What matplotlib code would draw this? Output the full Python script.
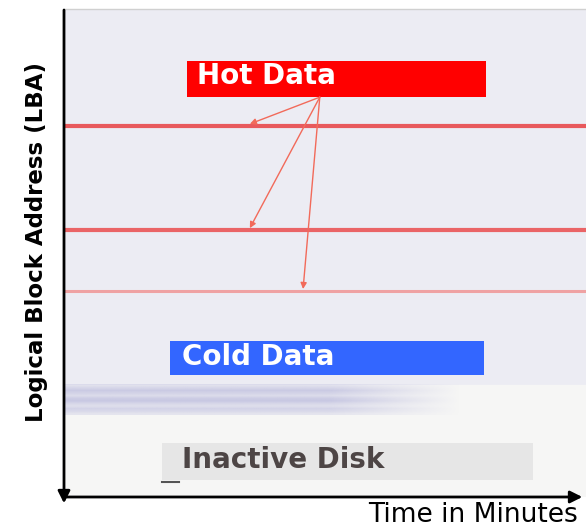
import matplotlib.pyplot as plt
from matplotlib.patches import Rectangle
import numpy as np

plt.rcParams['font.family'] = ['DejaVu Sans']

# ── Data (x: time 0-100, y: LBA 0-100, increasing downward) ────────────────
HOT_LBA = [23.8, 45.2, 57.7]
HOT_COLORS = ["#e8494b", "#ea5557", "#f09a9a"]
HOT_WIDTHS = [3.0, 3.0, 2.2]
ARROW_FROM = (49.0, 17.9)
ARROW_TO_X = [35.6, 35.6, 45.8]

LABELS = ["Hot Data", "Cold Data", "Inactive Disk"]
BOX_X = [(23.6, 80.8), (20.3, 80.5), (18.8, 89.8)]
BOX_Y = [(10.5, 17.9), (68.0, 74.9), (88.9, 96.5)]
BOX_FACE = ["#ff0000", "#3366ff", "#e6e6e6"]
TEXT_COLOR = ["white", "white", "#4d4545"]
TEXT_X = [25.5, 22.6, 22.6]
TEXT_Y = [13.6, 71.2, 92.3]

ACTIVE_END = 77.0      # end of accessed region
STREAK_END = 83.2      # end of sparse cold streak band
STREAK_ROWS = [0.35, 0.55, 0.75, 0.6, 0.45, 0.7, 0.8, 0.55, 0.4, 0.6, 0.5, 0.3]

fig = plt.figure(figsize=(5.86, 5.27), dpi=100)
fig.patch.set_facecolor("white")
ax = fig.add_axes([64 / 586, 30 / 527, 522 / 586, 487 / 527])
ax.axis("off")

# ── Background regions ─────────────────────────────────────────────────────
ax.axhspan(0, ACTIVE_END, color="#ececf3", zorder=0)
ax.axhspan(ACTIVE_END, 100, color="#f6f6f5", zorder=0)

# sparse streaks fading out to the right
cols = np.linspace(0, 1, 200)
fade = np.clip((0.76 - cols) / 0.25, 0, 1)
band = np.zeros((len(STREAK_ROWS), len(cols), 4))
band[..., 0] = 188 / 255
band[..., 1] = 188 / 255
band[..., 2] = 222 / 255
band[..., 3] = np.outer(STREAK_ROWS, fade)
ax.imshow(band, extent=(0, 100, STREAK_END, ACTIVE_END), aspect="auto",
          interpolation="bilinear", zorder=0.5)
ax.set_xlim(0, 100)
ax.set_ylim(100, 0)
ax.plot([0, 100], [-0.3, -0.3], color="#d0d0d0", lw=1, clip_on=False)

# ── Hot data lines ─────────────────────────────────────────────────────────
for y, c, w in zip(HOT_LBA, HOT_COLORS, HOT_WIDTHS):
    ax.plot([0, 100], [y, y], color=c, lw=w, alpha=0.9, zorder=1)

# ── Boxes and labels ───────────────────────────────────────────────────────
for lab, (x0, x1), (y0, y1), fc, tc, tx, ty in zip(LABELS, BOX_X, BOX_Y, BOX_FACE,
                                                    TEXT_COLOR, TEXT_X, TEXT_Y):
    ax.add_patch(Rectangle((x0, y0), x1 - x0, y1 - y0, facecolor=fc, edgecolor="none", zorder=2))
    ax.text(tx, ty, lab, color=tc, fontsize=20, fontweight="bold",
            ha="left", va="center", zorder=3)
ax.plot([18.8, 22.0], [96.9, 96.9], color="#555555", lw=1.5, zorder=3)

# ── Arrows from "Hot Data" to each hot line ────────────────────────────────
for tx, ty in zip(ARROW_TO_X, HOT_LBA):
    ax.annotate("", xy=(tx, ty - 0.4), xytext=ARROW_FROM,
                arrowprops=dict(arrowstyle="-|>", color="#f26a5a", lw=1.0,
                                mutation_scale=9, shrinkA=0, shrinkB=0), zorder=4)

# ── Axes arrows ────────────────────────────────────────────────────────────
ax.annotate("", xy=(0, 101.3), xytext=(0, 0), annotation_clip=False,
            arrowprops=dict(arrowstyle="-|>", color="black", lw=2, mutation_scale=18,
                            shrinkA=0, shrinkB=0))
ax.annotate("", xy=(99.3, 100), xytext=(0, 100), annotation_clip=False,
            arrowprops=dict(arrowstyle="-|>", color="black", lw=2, mutation_scale=18,
                            shrinkA=0, shrinkB=0))

fig.text(37 / 586, 1 - 242 / 527, "Logical Block Address (LBA)", rotation=90,
         fontsize=16.5, fontweight="bold", ha="center", va="center")
fig.text(578 / 586, 1 - 515 / 527, "Time in Minutes", fontsize=19,
         ha="right", va="center")

fig.savefig("out.png", dpi=100)
